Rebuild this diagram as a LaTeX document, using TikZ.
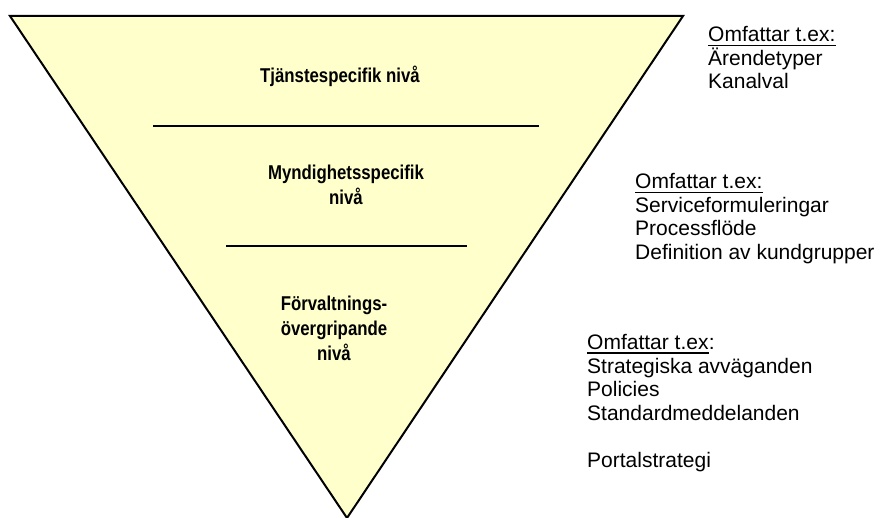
\documentclass[tikz,border=0pt]{standalone}
\usepackage{fontspec}
\setmainfont{Liberation Sans}
\newfontfamily\narrowsans[FakeStretch=0.84]{Liberation Sans}
\definecolor{funnel}{RGB}{255,255,204}
\tikzset{
  levellabel/.style={font=\narrowsans\bfseries\fontsize{20}{24}\selectfont, inner sep=0pt, anchor=base},
  note/.style={font=\fontsize{21}{23}\selectfont, inner sep=0pt, anchor=base west},
  divider/.style={line width=2.2pt},
  ul/.style={line width=1.4pt},
}
\begin{document}
\begin{tikzpicture}[x=1pt,y=-1pt]
\useasboundingbox (0,0) rectangle (880,518);

% inverted triangle
\coordinate (tl) at (10,16);
\coordinate (tr) at (683,16);
\coordinate (apex) at (347,518);
\draw[line width=2pt, fill=funnel] (tl) -- (tr) -- (apex) -- cycle;

% dividers between the levels
\coordinate (d1l) at (153,126);
\coordinate (d1r) at (539,126);
\coordinate (d2l) at (226,246);
\coordinate (d2r) at (467,246);
\draw[divider] (d1l) -- (d1r);
\draw[divider] (d2l) -- (d2r);

% level names
\node[levellabel] (lv1) at (340,83) {Tjänstespecifik nivå};
\node[levellabel] (lv2a) at (346,180) {Myndighetsspecifik};
\node[levellabel] (lv2b) at (346,205) {nivå};
\node[levellabel] (lv3a) at (334,311) {Förvaltnings-};
\node[levellabel] (lv3b) at (334,335.5) {övergripande};
\node[levellabel] (lv3c) at (334,360) {nivå};

% notes, top level
\node[note] (o1) at (708,42) {Omfattar t.ex:};
\draw[ul] ([yshift=-3pt]o1.south west) -- ([yshift=-3pt]o1.south east);
\node[note] (a1) at (708,65.5) {Ärendetyper};
\node[note] (a2) at (708,89) {Kanalval};

% notes, middle level
\node[note] (o2) at (635,189) {Omfattar t.ex:};
\draw[ul] ([yshift=-3pt]o2.south west) -- ([yshift=-3pt]o2.south east);
\node[note] (b1) at (635,212.5) {Serviceformuleringar};
\node[note] (b2) at (635,236) {Processflöde};
\node[note] (b3) at (635,259.5) {Definition av kundgrupper};

% notes, bottom level
\node[note] (o3) at (587,349.5) {Omfattar t.ex};
\node[note] (o3c) at (o3.base east) {:};
\draw[ul] ([yshift=-3pt]o3.south west) -- ([yshift=-3pt]o3.south east);
\node[note] (c1) at (587,373) {Strategiska avväganden};
\node[note] (c2) at (587,396.5) {Policies};
\node[note] (c3) at (587,420) {Standardmeddelanden};
\node[note] (c4) at (587,467) {Portalstrategi};
\end{tikzpicture}
\end{document}
